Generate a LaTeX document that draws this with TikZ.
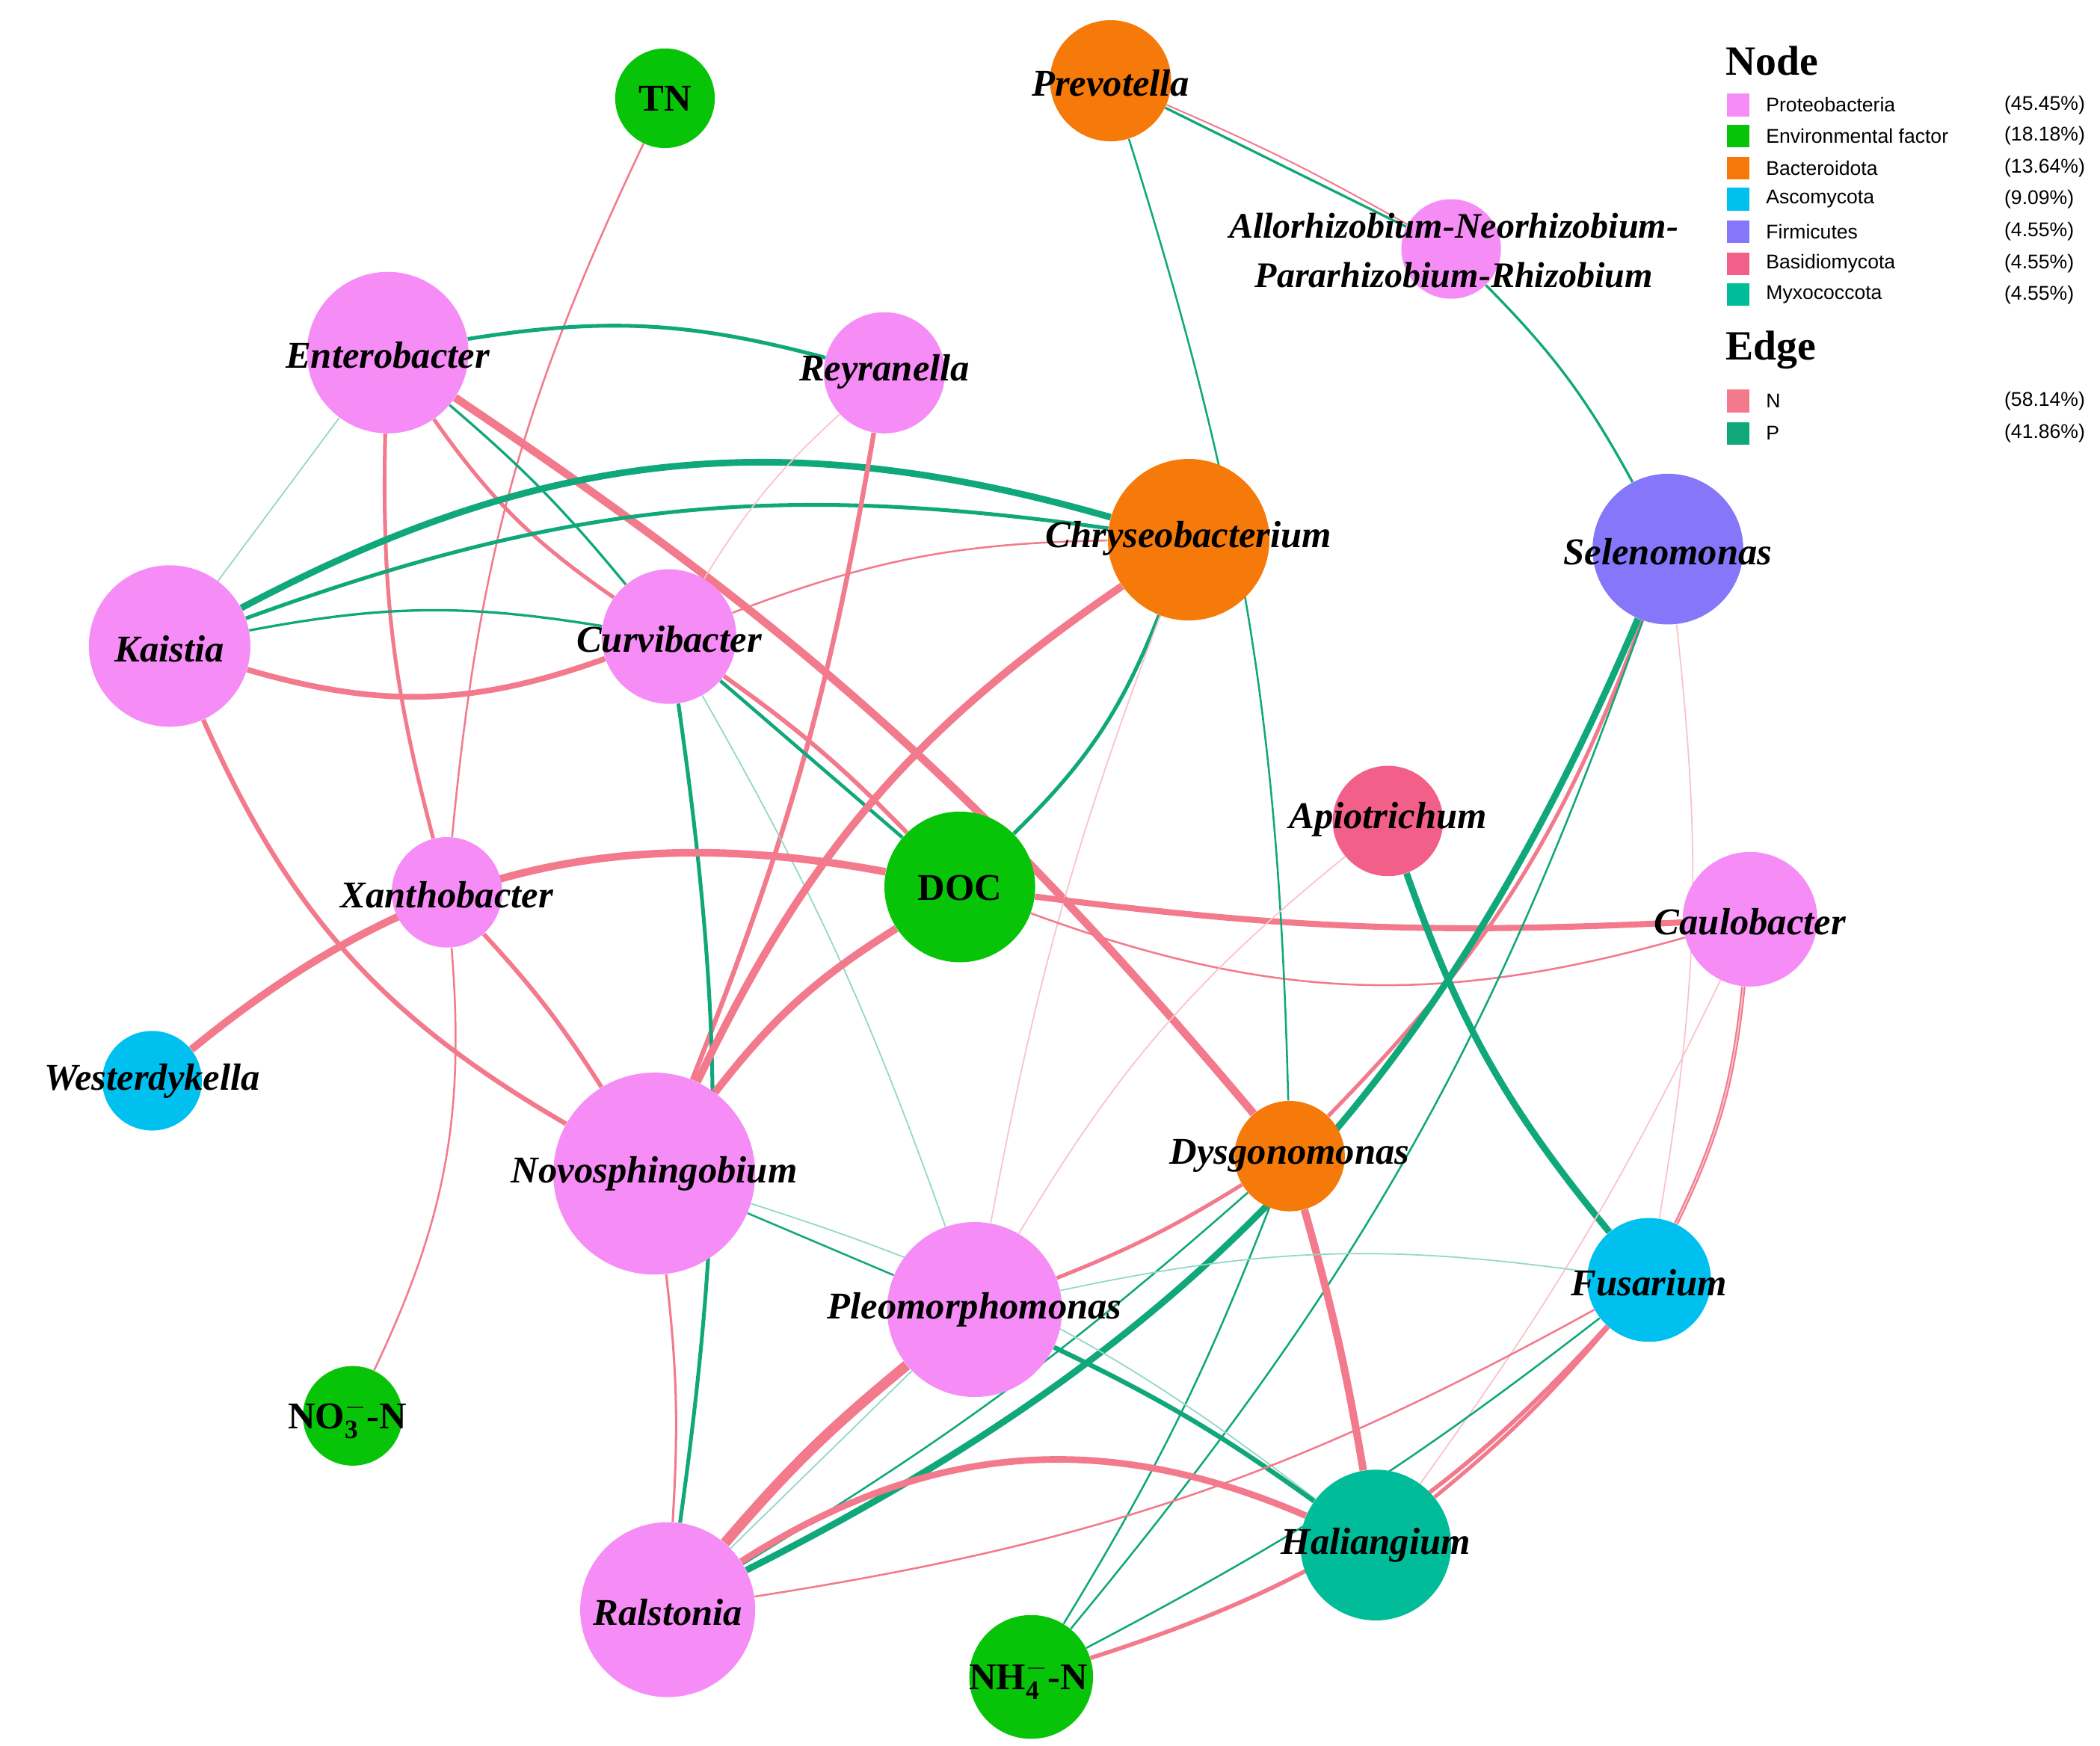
\documentclass[tikz,border=0pt]{standalone}
\usepackage{fontspec}
\setmainfont{Liberation Serif}
\newfontfamily\lsans{Liberation Sans}
\usetikzlibrary{backgrounds}
\definecolor{cpro}{RGB}{246,140,246}
\definecolor{cenv}{RGB}{8,196,8}
\definecolor{cbac}{RGB}{246,122,10}
\definecolor{casc}{RGB}{0,192,240}
\definecolor{cfir}{RGB}{134,118,250}
\definecolor{cbas}{RGB}{242,96,138}
\definecolor{cmyx}{RGB}{0,188,152}
\definecolor{eN}{RGB}{242,122,140}
\definecolor{eP}{RGB}{16,168,122}
\begin{document}
\begin{tikzpicture}[x=0.25mm,y=-0.25mm,
 nd/.style={circle,draw=none,inner sep=0pt,minimum size=#1*0.5mm},
 lab/.style={font=\fontsize{20}{24}\selectfont\bfseries\itshape,text=black},
 labu/.style={font=\fontsize{20}{24}\selectfont\bfseries,text=black},
 N/.style={draw=eN,line width=#1},N/.default=2pt,
 P/.style={draw=eP,line width=#1},P/.default=2pt,
 faintN/.style={draw=eN!45,line width=0.7pt},
 faintP/.style={draw=eP!45,line width=0.7pt},
 lsq/.style={minimum size=4.2mm,inner sep=0pt},
 ltx/.style={anchor=west,font=\lsans\fontsize{10.5}{12}\selectfont},
 ltt/.style={anchor=west,font=\fontsize{22}{26}\selectfont\bfseries}]
\useasboundingbox (0,0) rectangle (1560,1297);
% nodes
\node[nd=37,fill=cenv] (TN) at (494,73) {};
\node[nd=45,fill=cbac] (Pre) at (825,60) {};
\node[nd=37,fill=cpro] (All) at (1078,185) {};
\node[nd=60,fill=cpro] (Ent) at (288,262) {};
\node[nd=45,fill=cpro] (Rey) at (657,277) {};
\node[nd=60,fill=cbac] (Chr) at (883,401) {};
\node[nd=56,fill=cfir] (Sel) at (1239,408) {};
\node[nd=60,fill=cpro] (Kai) at (126,480) {};
\node[nd=50,fill=cpro] (Cur) at (497,473) {};
\node[nd=41,fill=cbas] (Api) at (1031,610) {};
\node[nd=56,fill=cenv] (DOC) at (713,659) {};
\node[nd=41,fill=cpro] (Xan) at (332,663) {};
\node[nd=50,fill=cpro] (Cau) at (1300,683) {};
\node[nd=37,fill=casc] (Wes) at (113,803) {};
\node[nd=75,fill=cpro] (Nov) at (486,872) {};
\node[nd=41,fill=cbac] (Dys) at (958,859) {};
\node[nd=65,fill=cpro] (Ple) at (724,973) {};
\node[nd=46,fill=casc] (Fus) at (1225,951) {};
\node[nd=37,fill=cenv] (NO3) at (262,1052) {};
\node[nd=56,fill=cmyx] (Hal) at (1022,1148) {};
\node[nd=65,fill=cpro] (Ral) at (496,1196) {};
\node[nd=46,fill=cenv] (NH4) at (766,1246) {};
% edges
\begin{scope}[on background layer]
\draw[N=1pt] (TN) to[bend right=10] (Xan);
\draw[P=2pt] (Ent) to[bend left=12] (Rey);
\draw[N=4.2pt] (Ent) to[bend left=8] (Dys);
\draw[N] (Ent) to[bend right=10] (Cur);
\draw[P=1.3pt] (Ent) to[bend left=5] (Cur);
\draw[N] (Ent) to[bend right=8] (Xan);
\draw[faintP] (Kai) to (Ent);
\draw[P=3.5pt] (Kai) to[bend left=22] (Chr);
\draw[P=2pt] (Kai) to[bend left=14] (Chr);
\draw[P=1.3pt] (Kai) to[bend left=10] (Cur);
\draw[N=3pt] (Kai) to[bend right=18] (Cur);
\draw[N=2.5pt] (Kai) to[bend right=18] (Nov);
\draw[N=2.5pt] (Rey) to[bend left=6] (Nov);
\draw[faintN] (Rey) to[bend right=8] (Cur);
\draw[N=1pt] (Cur) to[bend left=10] (Chr);
\draw[P=1.8pt] (Cur) to (DOC);
\draw[N=2.3pt] (Cur) to[bend left=5] (DOC);
\draw[P=2pt] (Cur) to[bend left=8] (Ral);
\draw[faintP] (Cur) to[bend left=5] (Ple);
\draw[P=2pt] (Chr) to[bend left=12] (DOC);
\draw[N=4pt] (Chr) to[bend right=15] (Nov);
\draw[faintN] (Chr) to[bend right=5] (Ple);
\draw[N=4pt] (DOC) to[bend right=10] (Nov);
\draw[N=1pt] (DOC) to[bend right=18] (Cau);
\draw[N=4pt] (Wes) to[bend left=25] (DOC);
\draw[N=3.2pt] (DOC) to[bend right=5] (Cau);
\draw[N=2.3pt] (Xan) to[bend left=5] (Nov);
\draw[N=1pt] (Xan) to[bend left=15] (NO3);
\draw[N=0.8pt] (Pre) to[bend right=-3] (All);
\draw[P=1.3pt] (Pre) to (All);
\draw[P=1pt] (Pre) to[bend left=8] (Dys);
\draw[P=1.3pt] (All) to[bend left=8] (Sel);
\draw[N=2pt] (Sel) to[bend left=12] (Dys);
\draw[P=3.5pt] (Sel) to[bend left=20] (Ral);
\draw[P=1pt] (Sel) to[bend left=10] (NH4);
\draw[faintN] (Sel) to[bend left=8] (Fus);
\draw[P=3.5pt] (Api) to[bend right=10] (Fus);
\draw[faintN] (Api) to[bend right=10] (Ple);
\draw[N=2.3pt] (Cau) to[bend left=10] (Fus);
\draw[faintN] (Cau) to[bend left=5] (Hal);
\draw[faintN] (Cau) to[bend left=10] (Fus);
\draw[N=2pt] (Dys) to[bend left=5] (Ple);
\draw[N=4pt] (Dys) to[bend left=3] (Hal);
\draw[P=1pt] (Dys) to[bend left=5] (NH4);
\draw[P=1pt] (Dys) to[bend left=5] (Ral);
\draw[faintP] (Nov) to[bend left=10] (Hal);
\draw[P=1pt] (Nov) to (Ple);
\draw[N=1.2pt] (Nov) to[bend left=5] (Ral);
\draw[P=2.5pt] (Ple) to[bend left=5] (Hal);
\draw[N=5.5pt] (Ple) to[bend right=5] (Ral);
\draw[faintP] (Ple) to (Ral);
\draw[N=3.5pt] (Ral) to[bend left=28] (Hal);
\draw[N=1pt] (Ral) to[bend right=10] (Fus);
\draw[N=2pt] (Hal) to[bend right=5] (Fus);
\draw[N=2.2pt] (NH4) to[bend right=15] (Fus);
\draw[P=1pt] (NH4) to[bend right=5] (Fus);
\draw[faintP] (Ple) to[bend left=10] (Fus);
\end{scope}
% labels
\node[labu] (tTN) at (494,73) {TN};
\node[lab] (tPre) at (825,62) {Prevotella};
\node[lab,align=center,font=\fontsize{19}{26}\selectfont\bfseries\itshape] (tAll) at (1080,186) {Allorhizobium-Neorhizobium-\\Pararhizobium-Rhizobium};
\node[lab] (tEnt) at (288,264) {Enterobacter};
\node[lab] (tRey) at (657,276) {Reyranella};
\node[lab] (tChr) at (883,400) {Chryseobacterium};
\node[lab] (tSel) at (1239,410) {Selenomonas};
\node[lab] (tKai) at (126,482) {Kaistia};
\node[lab] (tCur) at (497,475) {Curvibacter};
\node[lab] (tApi) at (1031,609) {Apiotrichum};
\node[labu] (tDOC) at (713,660) {DOC};
\node[lab] (tXan) at (332,665) {Xanthobacter};
\node[lab] (tCau) at (1300,685) {Caulobacter};
\node[lab] (tWes) at (113,803) {Westerdykella};
\node[lab] (tNov) at (486,872) {Novosphingobium};
\node[lab] (tDys) at (958,859) {Dysgonomonas};
\node[lab] (tPle) at (724,973) {Pleomorphomonas};
\node[lab] (tFus) at (1225,953) {Fusarium};
\node[labu] (tNO3) at (258,1054) {NO$_\mathbf{3}^\mathbf{-}$-N};
\node[lab] (tHal) at (1022,1148) {Haliangium};
\node[lab] (tRal) at (496,1198) {Ralstonia};
\node[labu] (tNH4) at (764,1248) {NH$_\mathbf{4}^\mathbf{-}$-N};
% legend
\node[ltt] (lgN) at (1277,45) {Node};
\foreach \c/\t/\p/\y in {cpro/Proteobacteria/45.45/78,cenv/Environmental factor/18.18/101,cbac/Bacteroidota/13.64/125,casc/Ascomycota/9.09/148,cfir/Firmicutes/4.55/172,cbas/Basidiomycota/4.55/196,cmyx/Myxococcota/4.55/219}{
 \node[lsq,fill=\c] (sq\y) at (1291,\y) {};
 \node[ltx] (lt\y) at (1307,\y) {\t};
 \node[ltx] (lp\y) at (1484,\y) {(\p\%)};
}
\node[ltt] (lgE) at (1277,260) {Edge};
\foreach \c/\t/\p/\y in {eN/N/58.14/298,eP/P/41.86/322}{
 \node[lsq,fill=\c] (sq\y) at (1291,\y) {};
 \node[ltx] (lt\y) at (1307,\y) {\t};
 \node[ltx] (lp\y) at (1484,\y) {(\p\%)};
}
\end{tikzpicture}
\end{document}
